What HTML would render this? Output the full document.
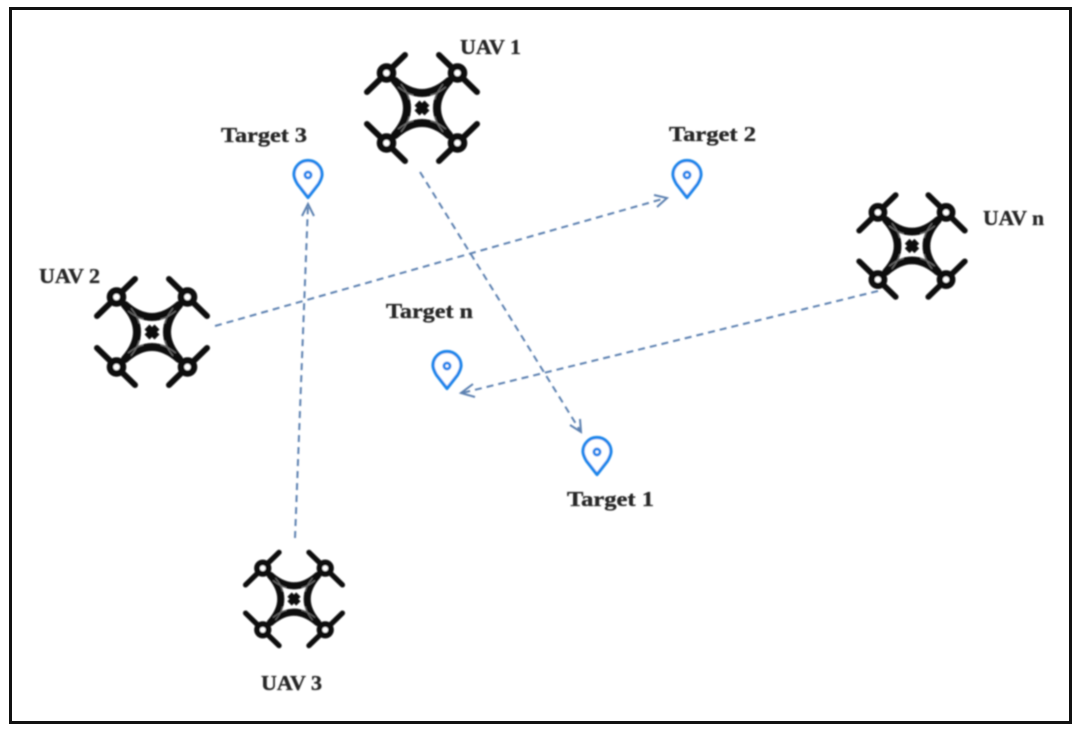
<!DOCTYPE html>
<html><head><meta charset="utf-8"><style>
html,body{margin:0;padding:0;background:#fff}
svg{display:block}
text{font-family:"Liberation Serif",serif;font-weight:bold;font-size:21px;fill:#262626;stroke:#262626;stroke-width:.35}
</style></head><body>
<svg width="1080" height="731" viewBox="0 0 1080 731" xmlns="http://www.w3.org/2000/svg">
<defs>
<filter id="b" x="-5%" y="-5%" width="110%" height="110%"><feGaussianBlur stdDeviation="0.7"/></filter>
<g id="drone">
  <g fill="none" stroke="#0a0a0a" stroke-linecap="round">
    <line x1="-55" y1="-16" x2="-17" y2="-53" stroke-width="6"/><line x1="55" y1="-16" x2="17" y2="-53" stroke-width="6"/>
    <line x1="-55" y1="16" x2="-17" y2="53" stroke-width="6"/><line x1="55" y1="16" x2="17" y2="53" stroke-width="6"/>
    <path d="M-27-27Q0-3 27-27Q3 0 27 27Q0 3-27 27Q-3 0-27-27Z" stroke-width="8" stroke-linejoin="round"/>
    <path d="M-25-22Q-15-14-9-13M25-22Q15-14 9-13M-25 22Q-15 14-9 13M25 22Q15 14 9 13M-22-25Q-14-15-13-9M22-25Q14-15 13-9M-22 25Q-14 15-13 9M22 25Q14 15 13 9" stroke="#fff" stroke-opacity=".45" stroke-width="1"/>
    <line x1="-36" y1="-35" x2="-24" y2="-24" stroke-width="6"/><line x1="36" y1="-35" x2="24" y2="-24" stroke-width="6"/>
    <line x1="-36" y1="35" x2="-24" y2="24" stroke-width="6"/><line x1="36" y1="35" x2="24" y2="24" stroke-width="6"/>
    <circle cx="-35.500" cy="-35" r="6.500" fill="#fff" stroke-width="6.500"/><circle cx="35.500" cy="-35" r="6.500" fill="#fff" stroke-width="6.500"/>
    <circle cx="-35.500" cy="35" r="6.500" fill="#fff" stroke-width="6.500"/><circle cx="35.500" cy="35" r="6.500" fill="#fff" stroke-width="6.500"/>
    <path d="M-5-5L5 5M5-5L-5 5" stroke-width="7" stroke-linecap="butt"/>
  </g>
</g>
<g id="pin">
  <path d="M0 18.500L-10.500 5Q-14-1-14-4.500A14 14 0 0 1 14-4.500Q14-1 10.500 5Z" fill="#fff" stroke="#1f86ea" stroke-width="3.200" stroke-linejoin="round"/>
  <circle cx="0" cy="-4" r="3" fill="#fff" stroke="#1f86ea" stroke-width="3"/>
</g>
</defs>
<rect x="10.500" y="8.500" width="1060" height="714" fill="#fff" stroke="#111" stroke-width="3"/>
<g filter="url(#b)">
  <use href="#drone" transform="translate(422,108)"/>
  <use href="#drone" transform="translate(152,332)"/>
  <use href="#drone" transform="translate(912,246) scale(.96)"/>
  <use href="#drone" transform="translate(294,599) scale(.88)"/>

  <g fill="none" stroke="#5b80b0" stroke-width="2">
    <g stroke-dasharray="7 5">
      <line x1="420" y1="172" x2="581" y2="432"/>
      <line x1="215" y1="326" x2="666" y2="198"/>
      <line x1="295" y1="538" x2="308" y2="205"/>
      <line x1="878" y1="291" x2="462" y2="393"/>
    </g>
    <path d="M570 425L581 432L580 419"/>
    <path d="M654 195L667 198L657 207"/>
    <path d="M302 216L308 204L314 216"/>
    <path d="M473 384L461 393L475 397"/>
  </g>

  <use href="#pin" transform="translate(308,179)"/>
  <use href="#pin" transform="translate(687,179)"/>
  <use href="#pin" transform="translate(447,370)"/>
  <use href="#pin" transform="translate(597,456)"/>

  <text x="460" y="54" textLength="61" lengthAdjust="spacingAndGlyphs">UAV 1</text>
  <text x="221" y="142" textLength="86" lengthAdjust="spacingAndGlyphs">Target 3</text>
  <text x="669" y="141" textLength="87" lengthAdjust="spacingAndGlyphs">Target 2</text>
  <text x="983" y="225" textLength="61" lengthAdjust="spacingAndGlyphs">UAV n</text>
  <text x="39" y="283" textLength="61" lengthAdjust="spacingAndGlyphs">UAV 2</text>
  <text x="386" y="318" textLength="87" lengthAdjust="spacingAndGlyphs">Target n</text>
  <text x="567" y="506" textLength="87" lengthAdjust="spacingAndGlyphs">Target 1</text>
  <text x="261" y="690" textLength="61" lengthAdjust="spacingAndGlyphs">UAV 3</text>
</g>
</svg>
</body></html>
